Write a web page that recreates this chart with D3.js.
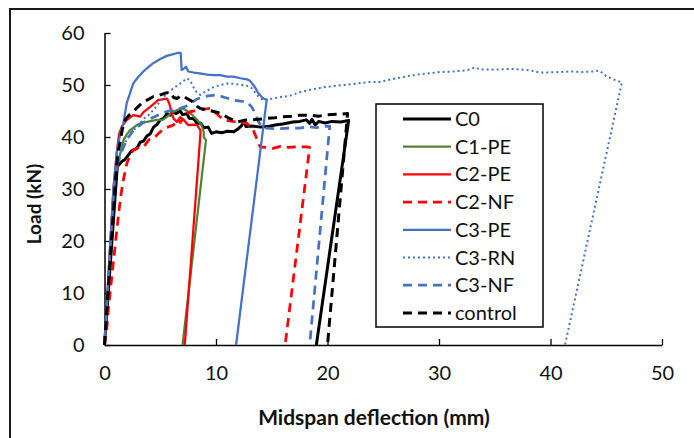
<!DOCTYPE html>
<html><head><meta charset="utf-8">
<script src="https://cdn.jsdelivr.net/npm/d3@7"></script>
<style>html,body{margin:0;padding:0;background:#fff;}svg{display:block;}</style>
</head><body>
<svg id="chart" width="694" height="438"></svg>
<script>
// ---- data (deflection mm, load kN) ----
const xTicks = [0, 10, 20, 30, 40, 50];
const yTicks = [0, 10, 20, 30, 40, 50, 60];
const seriesNames = ["C0", "C1-PE", "C2-PE", "C2-NF", "C3-PE", "C3-RN", "C3-NF", "control"];

const C0 = [[0,0],[0.5,15],[1.0,30],[1.15,34.3],[1.35,34.8],[1.55,35.3],[1.8,35.6],[2.1,36.4],[2.4,37.3],[2.9,37.8],[3.2,39],[3.5,39.2],[3.8,40.2],[4.1,40.6],[4.4,41.9],[4.7,42.4],[5.0,43.3],[5.3,43.6],[5.6,44.5],[5.9,44.2],[6.1,44.9],[6.4,44.5],[6.8,45.0],[7.0,44.3],[7.4,44.5],[7.6,43.6],[8.0,43.5],[8.3,42.6],[8.6,42.7],[8.9,41.8],[9.3,41.9],[9.6,40.7],[10.0,41.0],[10.5,40.8],[11.0,41.1],[11.6,41.0],[12.0,41.6],[12.3,42.2],[12.5,43.1],[12.7,42.0],[13.2,42.1],[14.0,41.9],[14.6,42.0],[15.3,42.3],[16.0,42.5],[16.9,42.9],[17.5,43.0],[18.1,43.3],[18.4,42.6],[18.6,43.4],[18.9,42.3],[19.2,43.0],[19.8,42.7],[20.4,43.0],[21.2,42.9],[21.9,43.2],[19.0,0]];
const C1PE = [[0,0],[0.4,14],[0.9,31],[1.2,35],[1.45,37.2],[1.7,39.4],[2.0,40.5],[2.3,41.3],[2.9,42.3],[3.4,42.8],[3.8,42.9],[4.7,43.3],[5.2,43.3],[5.6,43.9],[6.0,44.6],[6.5,45.2],[6.9,45.5],[7.2,45.3],[7.5,44.9],[7.9,44.2],[8.3,43.3],[8.7,42.3],[8.9,41.0],[8.9,40.0],[9.1,39.4],[7.0,0]];
const C2PE = [[0,0],[0.4,15],[0.8,30],[1.1,37],[1.3,40.5],[1.55,42],[2.0,43.3],[2.6,44.2],[3.2,43.9],[3.5,44.8],[4.1,45.8],[4.5,46.5],[4.8,47.1],[5.3,47.3],[5.6,47.4],[5.8,46.5],[6.0,44.9],[6.2,43.5],[6.5,42.9],[6.8,43.8],[7.1,43.3],[7.5,42.3],[7.9,42.4],[8.3,42.3],[8.6,41.3],[8.6,40.5],[7.2,0]];
const C2NF = [[0,0],[0.2,3],[0.34,6.7],[0.6,12],[0.79,15.7],[1.0,20],[1.24,24.7],[1.45,28.5],[1.69,31.7],[2.0,34.9],[2.3,36.5],[2.6,37.5],[3.0,37.9],[3.5,38.1],[4.0,39.5],[4.4,39.7],[4.9,40.8],[5.4,41.7],[5.8,42.0],[6.2,42.3],[6.5,43.5],[6.8,42.8],[7.2,44.0],[7.7,44.9],[8.3,45.1],[8.8,45.3],[9.5,45.5],[9.9,44.8],[10.3,44.0],[10.7,43.3],[11.5,43.0],[12.2,42.8],[12.8,42.6],[13.35,41.3],[13.7,39.5],[13.95,38.1],[14.5,38.0],[15.1,37.8],[15.8,38.2],[16.5,38.0],[17.2,38.1],[18.1,38.1],[18.4,38.0],[16.2,0]];
const C3PE = [[0,0],[0.4,15],[0.8,30],[1.1,37],[1.4,40.5],[1.69,42.6],[1.99,46.5],[2.3,48.5],[2.58,50.3],[3.0,51.5],[3.48,52.6],[3.9,53.4],[4.38,54.2],[5.0,55.0],[5.58,55.6],[6.1,55.9],[6.62,56.2],[6.83,56.2],[6.92,52.9],[7.15,53.2],[7.31,53.5],[7.52,52.6],[8.0,52.4],[8.56,52.25],[9.2,52.0],[9.76,51.9],[10.36,51.9],[11.0,51.6],[11.55,51.6],[12.2,51.3],[12.75,51.1],[13.05,50.8],[13.35,50.0],[13.6,49.2],[13.8,48.4],[14.24,47.4],[14.55,47.2],[11.8,0]];
const C3RN = [[0,0],[0.4,14],[0.8,29],[1.05,34],[1.5,37.5],[2.0,39.5],[2.5,41],[3.0,42.2],[3.5,43.5],[4.0,44.3],[4.5,45.5],[5.0,46.9],[5.6,48.4],[6.2,49.4],[6.8,50.3],[7.4,51.3],[7.7,50.8],[8.0,49.5],[8.3,48.5],[8.6,48.1],[9.1,48.8],[9.8,49.6],[10.4,50.0],[11.0,50.3],[11.7,50.2],[12.4,50.0],[12.9,49.8],[13.2,49.4],[13.5,48.6],[13.8,47.8],[14.2,47.1],[14.6,47.2],[15.2,47.4],[15.7,47.7],[16.6,47.9],[17.5,48.6],[18.5,49.1],[19.5,49.5],[20.5,49.8],[21.5,50.0],[22.7,50.3],[23.8,50.6],[24.7,50.6],[25.7,51.1],[26.7,51.5],[27.7,51.9],[28.9,52.2],[30.1,52.5],[31.3,52.6],[32.3,52.8],[32.8,53.0],[33.2,53.4],[33.7,53.0],[34.5,53.0],[35.5,53.0],[36.5,53.1],[37.3,53.0],[38.2,52.8],[39.0,52.4],[39.7,52.4],[40.8,52.5],[41.8,52.6],[42.8,52.5],[43.8,52.6],[44.4,52.75],[45.0,51.7],[45.6,51.1],[46.4,50.5],[41.3,0]];
const C3NF = [[0,0],[0.4,14],[0.8,29],[1.1,34.5],[1.6,37.5],[2.0,39.5],[2.5,41.0],[3.0,42.0],[3.5,42.8],[4.1,43.5],[4.6,44.0],[5.1,44.5],[5.6,44.9],[6.2,45.2],[6.8,45.5],[7.3,45.9],[7.8,46.6],[8.3,47.3],[8.8,47.7],[9.3,47.9],[10.06,48.1],[10.8,47.6],[11.55,47.1],[12.2,46.9],[12.75,46.8],[13.2,45.8],[13.5,44.6],[13.8,43.0],[14.1,42.0],[14.55,41.7],[15.5,41.6],[16.5,41.7],[17.5,41.7],[18.3,42.0],[19.0,41.8],[19.6,42.0],[20.2,42.1],[18.4,0]];
const CONTROL = [[0,0],[0.5,16],[1.0,32],[1.2,37],[1.4,39],[1.6,41.5],[1.85,43.3],[2.2,44.2],[2.6,44.9],[3.0,45.8],[3.5,46.8],[4.0,47.3],[4.4,47.8],[4.9,48.0],[5.4,48.4],[5.9,48.6],[6.2,47.6],[6.5,47.4],[6.9,48.0],[7.4,47.4],[7.9,46.8],[8.3,45.9],[8.6,45.5],[9.2,45.2],[9.8,44.9],[10.4,44.6],[11.0,43.8],[11.9,42.9],[12.5,43.2],[13.1,43.3],[13.8,43.4],[14.6,43.6],[15.3,43.7],[16.0,43.9],[16.8,44.0],[17.5,44.2],[18.4,44.2],[19.2,44.0],[20.0,44.3],[21.0,44.4],[21.8,44.5],[20.0,0]];

const seriesData = [C0, C1PE, C2PE, C2NF, C3PE, C3RN, C3NF, CONTROL];
const styles = [
  {color:"#000000", w:3,   dash:null},
  {color:"#548235", w:2.25,dash:null},
  {color:"#FF0000", w:2.25,dash:null},
  {color:"#FF0000", w:2.75,dash:"9,6"},
  {color:"#4472C4", w:2.25,dash:null},
  {color:"#4472C4", w:2,   dash:"2,3"},
  {color:"#4472C4", w:2.75,dash:"9,6"},
  {color:"#000000", w:3,   dash:"9,6"}
];

const svg = d3.select("#chart");
const FONT = "Lato, 'Liberation Sans', sans-serif";

// outer frame
svg.append("rect").attr("x",10).attr("y",9).attr("width",800).attr("height",600)
  .attr("fill","none").attr("stroke","#1a1a1a").attr("stroke-width",2);

const x = d3.scaleLinear().domain([0,50]).range([104.5,662]);
const y = d3.scaleLinear().domain([0,60]).range([345,33]);

// axes
const xAxis = d3.axisBottom(x).tickValues(xTicks).tickSizeInner(-6).tickSizeOuter(0).tickPadding(21);
const yAxis = d3.axisLeft(y).tickValues(yTicks).tickSizeInner(-6).tickSizeOuter(0).tickPadding(20);

const gx = svg.append("g").attr("transform","translate(0,345)").call(xAxis);
const gy = svg.append("g").attr("transform","translate(104.5,0)").call(yAxis);
[gx,gy].forEach(g=>{
  g.select(".domain").attr("stroke","#000").attr("stroke-width",1.5);
  g.selectAll(".tick line").attr("stroke","#000").attr("stroke-width",1.3);
  g.selectAll(".tick text").attr("font-family",FONT).attr("font-size",20).attr("fill","#111");
});
gx.selectAll(".tick").filter(d=>d===0).select("line").remove();

// lines
const line = d3.line().x(d=>x(d[0])).y(d=>y(d[1]));
seriesData.forEach((s,i)=>{
  const st = styles[i];
  const p = svg.append("path").datum(s).attr("d",line)
    .attr("fill","none").attr("stroke",st.color).attr("stroke-width",st.w)
    .attr("stroke-linejoin","round");
  if (st.dash) p.attr("stroke-dasharray",st.dash);
});

// axis titles
svg.append("text").attr("x",374).attr("y",425).attr("text-anchor","middle")
  .attr("font-family",FONT).attr("font-weight","bold").attr("font-size",21).attr("fill","#111")
  .text("Midspan deflection (mm)");
svg.append("text").attr("transform","translate(41,204) rotate(-90)").attr("text-anchor","middle")
  .attr("font-family",FONT).attr("font-weight","bold").attr("font-size",19).attr("fill","#111")
  .text("Load (kN)");

// legend
const lg = svg.append("g");
lg.append("rect").attr("x",376).attr("y",104).attr("width",167).attr("height",223)
  .attr("fill","#fff").attr("stroke","#000").attr("stroke-width",1.5);
seriesNames.forEach((n,i)=>{
  const st = styles[i];
  const yy = 119 + i*27.7;
  const l = lg.append("line").attr("x1",403).attr("x2",451).attr("y1",yy).attr("y2",yy)
    .attr("stroke",st.color).attr("stroke-width",st.w);
  if (st.dash) l.attr("stroke-dasharray",st.dash);
  lg.append("text").attr("x",455).attr("y",yy).attr("dy","0.35em")
    .attr("font-family",FONT).attr("font-size",20).attr("fill","#111").text(n);
});
</script>
</body></html>
